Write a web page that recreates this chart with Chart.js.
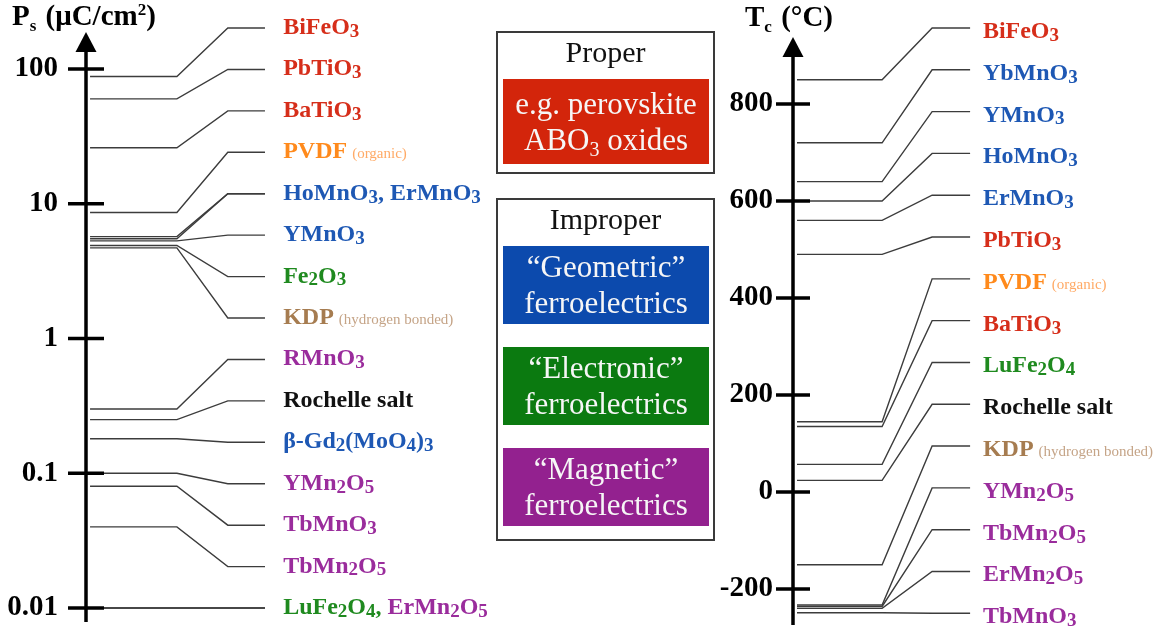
<!DOCTYPE html>
<html>
<head>
<meta charset="utf-8">
<script src="https://cdn.jsdelivr.net/npm/chart.js@4.4.0/dist/chart.umd.min.js"></script>
<style>
  html, body { margin: 0; padding: 0; background: #fff; }
  body { width: 1169px; height: 627px; position: relative; overflow: hidden; font-family: 'Liberation Serif', serif; }
  canvas { position: absolute; top: 0; }
  #psChart { left: 0; }
  #tcChart { left: 700px; }
  .frame { position: absolute; left: 496px; width: 219px; border: 2px solid #3a3a3a; box-sizing: border-box; background: #fff; }
  .head { position: absolute; left: 496px; width: 219px; height: 36px; line-height: 36px; text-align: center; font-size: 30px; color: #111; }
  .tag { position: absolute; left: 503px; width: 206px; display: flex; flex-direction: column; justify-content: center; align-items: center; color: #f6f6f6; font-size: 31px; line-height: 36px; }
  .tag sub { font-size: 20px; line-height: 0; vertical-align: -6px; }
</style>
</head>
<body>
<canvas id="psChart" width="490" height="627"></canvas>
<canvas id="tcChart" width="469" height="627"></canvas>

<div class="frame" style="top:31px; height:143px;"></div>
<div class="head" style="top:34px;">Proper</div>
<div class="tag" style="top:79px; height:85px; background:#d3250b;"><span>e.g. perovskite</span><span>ABO<sub>3</sub> oxides</span></div>

<div class="frame" style="top:198px; height:343px;"></div>
<div class="head" style="top:201px;">Improper</div>
<div class="tag" style="top:246px; height:78px; background:#0c4aad;"><span>“Geometric”</span><span>ferroelectrics</span></div>
<div class="tag" style="top:347px; height:78px; background:#0b7a10;"><span>“Electronic”</span><span>ferroelectrics</span></div>
<div class="tag" style="top:448px; height:78px; background:#93218f;"><span>“Magnetic”</span><span>ferroelectrics</span></div>

<script>
// spontaneous polarisation, log axis (μC/cm²)
const psNames   = ['BiFeO_3', 'PbTiO_3', 'BaTiO_3', 'PVDF', 'HoMnO_3', 'ErMnO_3', 'YMnO_3', 'Fe_2O_3', 'KDP',
                   'RMnO_3', 'Rochelle salt', 'β-Gd_2(MoO_4)_3', 'YMn_2O_5', 'TbMnO_3', 'TbMn_2O_5', 'LuFe_2O_4', 'ErMn_2O_5'];
const psValues  = [88, 60, 26, 8.6, 5.7, 5.5, 5.3, 4.9, 4.7, 0.30, 0.25, 0.18, 0.1, 0.08, 0.04, 0.01, 0.01];
const psClass   = ['proper', 'proper', 'proper', 'organic', 'geometric', 'geometric', 'geometric', 'electronic', 'hydrogen',
                   'magnetic', 'other', 'geometric', 'magnetic', 'magnetic', 'magnetic', 'electronic', 'magnetic'];
const psSlot    = [0, 1, 2, 3, 4, 4, 5, 6, 7, 8, 9, 10, 11, 12, 13, 14, 14];
const psTicks   = [0.01, 0.1, 1, 10, 100];
const psTickLabels = ['0.01', '0.1', '1', '10', '100'];

// transition temperature, linear axis (°C)
const tcNames   = ['BiFeO_3', 'YbMnO_3', 'YMnO_3', 'HoMnO_3', 'ErMnO_3', 'PbTiO_3', 'PVDF', 'BaTiO_3', 'LuFe_2O_4',
                   'Rochelle salt', 'KDP', 'YMn_2O_5', 'TbMn_2O_5', 'ErMn_2O_5', 'TbMnO_3'];
const tcValues  = [850, 720, 640, 600, 560, 490, 145, 135, 57, 24, -150, -233, -236, -240, -249];
const tcClass   = ['proper', 'geometric', 'geometric', 'geometric', 'geometric', 'proper', 'organic', 'proper', 'electronic',
                   'other', 'hydrogen', 'magnetic', 'magnetic', 'magnetic', 'magnetic'];
const tcSlot    = [0, 1, 2, 3, 4, 5, 6, 7, 8, 9, 10, 11, 12, 13, 14];
const tcTicks   = [-200, 0, 200, 400, 600, 800];
const tcTickLabels = ['-200', '0', '200', '400', '600', '800'];

const classNote = { organic: '(organic)', hydrogen: '(hydrogen bonded)' };

const classStyle = {
    proper:     { color: '#d62e1a' },
    organic:    { color: '#ff8a1c', note: '#ffaa66' },
    geometric:  { color: '#1e58b4' },
    electronic: { color: '#1f8a1f' },
    hydrogen:   { color: '#a67c50', note: '#c5a487' },
    magnetic:   { color: '#9a2c9c' },
    other:      { color: '#111111' }
};

const FONT = '"Liberation Serif", "Times New Roman", serif';

// formula text, "_3" means subscript 3
function drawFormula(ctx, text, x, y, color, size) {
    ctx.fillStyle = color;
    text.split(/(_\d)/).forEach(seg => {
        if (!seg) return;
        if (seg[0] === '_') {
            ctx.font = `bold ${Math.round(size * 0.78)}px ${FONT}`;
            ctx.fillText(seg.slice(1), x, y + size * 0.12);
            x += ctx.measureText(seg.slice(1)).width;
        } else {
            ctx.font = `bold ${size}px ${FONT}`;
            ctx.fillText(seg, x, y);
            x += ctx.measureText(seg).width;
        }
    });
    return x;
}

const leaderPlugin = {
    id: 'leaders',
    afterDraw(chart, args, o) {
        const { ctx, chartArea } = chart;
        const ys = chart.scales.y, ss = chart.scales.slot, xs = chart.scales.x;
        const ax = chartArea.left;
        ctx.save();
        ctx.textAlign = 'left';
        ctx.textBaseline = 'alphabetic';

        // leader lines
        ctx.strokeStyle = '#3c3c3c';
        ctx.lineWidth = 1.4;
        const [a, b, c, d] = o.breaks.map(u => xs.getPixelForValue(u));
        o.values.forEach((v, i) => {
            const y0 = ys.getPixelForValue(v);
            const y1 = ss.getPixelForValue(o.slots[i]);
            ctx.beginPath();
            ctx.moveTo(a, y0);
            ctx.lineTo(b, y0);
            ctx.lineTo(c, y1);
            ctx.lineTo(d, y1);
            ctx.stroke();
        });

        // axis with arrow and crossing ticks
        ctx.strokeStyle = '#000';
        ctx.fillStyle = '#000';
        ctx.lineWidth = 3.5;
        ctx.beginPath();
        ctx.moveTo(ax, chartArea.top + 12);
        ctx.lineTo(ax, chartArea.bottom);
        ctx.stroke();
        ctx.beginPath();
        ctx.moveTo(ax, chartArea.top);
        ctx.lineTo(ax - 10.5, chartArea.top + 20);
        ctx.lineTo(ax + 10.5, chartArea.top + 20);
        ctx.closePath();
        ctx.fill();
        ys.ticks.forEach(t => {
            const py = ys.getPixelForValue(t.value);
            ctx.beginPath();
            ctx.moveTo(ax - o.tick, py);
            ctx.lineTo(ax + o.tick, py);
            ctx.stroke();
        });

        // labels, one row per slot
        const bySlot = {};
        o.names.forEach((n, i) => (bySlot[o.slots[i]] = bySlot[o.slots[i]] || []).push(i));
        const lx = xs.getPixelForValue(o.labelAt);
        Object.keys(bySlot).forEach(s => {
            const idx = bySlot[s];
            const py = ss.getPixelForValue(+s) + o.textDy;
            let px = lx;
            idx.forEach((i, k) => {
                const cls = o.classes[i];
                const txt = o.names[i] + (k < idx.length - 1 ? ', ' : '');
                px = drawFormula(ctx, txt, px, py, classStyle[cls].color, 24);
                if (classNote[cls]) {
                    ctx.font = `15px ${FONT}`;
                    ctx.fillStyle = classStyle[cls].note;
                    ctx.fillText(classNote[cls], px + 5, py);
                }
            });
        });

        // axis title
        let tx = o.title.x;
        const tb = o.title.y;
        o.title.parts.forEach(([t, kind]) => {
            const size = kind ? 17 : 29;
            const dy = kind === 'sub' ? 6 : kind === 'sup' ? -10 : 0;
            ctx.font = `bold ${size}px ${FONT}`;
            ctx.fillStyle = '#000';
            ctx.fillText(t, tx, tb + dy);
            tx += ctx.measureText(t).width + (kind === 'sub' ? 2 : 0);
        });
        ctx.restore();
    }
};

function makeAxis(id, cfg) {
    return new Chart(document.getElementById(id), {
        type: 'scatter',
        data: { datasets: [] },
        plugins: [leaderPlugin],
        options: {
            responsive: false,
            animation: false,
            layout: { padding: { top: cfg.top, bottom: cfg.bottom, left: 0, right: 0 } },
            plugins: {
                legend: { display: false },
                tooltip: { enabled: false },
                leaders: cfg.leaders
            },
            scales: {
                x: { type: 'linear', min: 0, max: 100, display: false },
                slot: { type: 'linear', axis: 'y', display: false, reverse: true, min: cfg.slotMin, max: cfg.slotMax },
                y: {
                    type: cfg.type,
                    position: 'left',
                    min: cfg.min,
                    max: cfg.max,
                    afterFit: s => { s.width = cfg.axisX; s.paddingTop = 0; s.paddingBottom = 0; },
                    afterBuildTicks: s => { s.ticks = cfg.ticks.map(v => ({ value: v })); },
                    ticks: {
                        callback: (v, i) => cfg.tickLabels[i],
                        color: '#000',
                        padding: cfg.pad,
                        font: { family: FONT, size: 29, weight: 'bold' }
                    },
                    grid: { display: false, drawTicks: false },
                    border: { display: false }
                }
            }
        }
    });
}

makeAxis('psChart', {
    type: 'logarithmic', min: 0.00787, max: 188, top: 32, bottom: 5,
    axisX: 86, pad: 28, ticks: psTicks, tickLabels: psTickLabels,
    slotMin: 0.0964, slotMax: 14.337,
    leaders: {
        names: psNames, values: psValues, classes: psClass, slots: psSlot,
        breaks: [1, 22.5, 35.1, 44.3], labelAt: 48.8, textDy: 6, tick: 18,
        title: { x: 12, y: 25, parts: [['P', ''], ['s', 'sub'], [' (μC/cm', ''], ['2', 'sup'], [')', '']] }
    }
});

makeAxis('tcChart', {
    type: 'linear', min: -274.2, max: 938.1, top: 37, bottom: 2,
    axisX: 93, pad: 20, ticks: tcTicks, tickLabels: tcTickLabels,
    slotMin: 0.2153, slotMax: 14.28,
    leaders: {
        names: tcNames, values: tcValues, classes: tcClass, slots: tcSlot,
        breaks: [1.06, 23.7, 37.0, 47.1], labelAt: 50.5, textDy: 10, tick: 17,
        title: { x: 45, y: 26, parts: [['T', ''], ['c', 'sub'], [' (°C)', '']] }
    }
});
</script>
</body>
</html>
